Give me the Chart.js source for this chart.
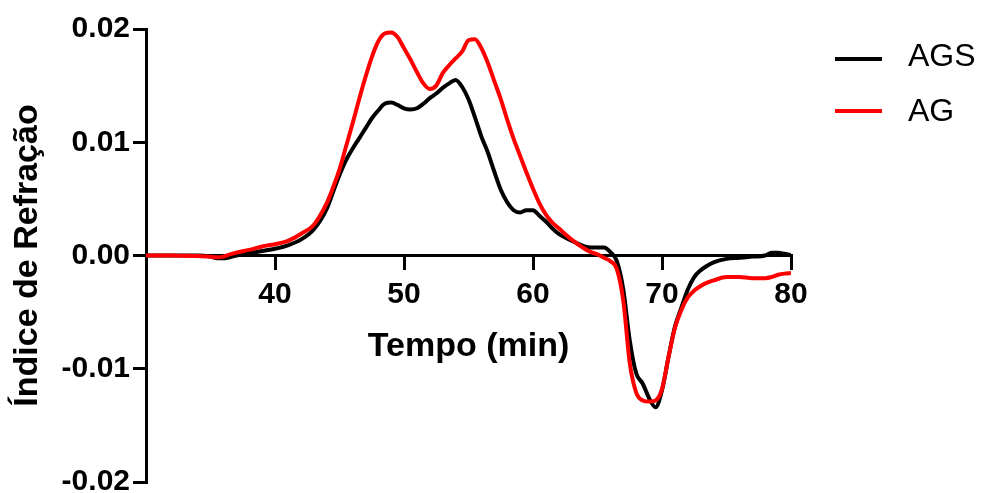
<!DOCTYPE html>
<html>
<head>
<meta charset="utf-8">
<script src="https://cdn.jsdelivr.net/npm/chart.js@4.4.0/dist/chart.umd.min.js"></script>
<style>
  html, body { margin: 0; padding: 0; background: #fff; overflow: hidden; }
  #wrap { width: 983px; height: 510px; }
</style>
</head>
<body>
<div id="wrap"><canvas id="myChart" width="983" height="510"></canvas></div>
<script>
// tempo (min) and refractive index signal for both samples
var tempo = [30, 32, 34, 35, 35.5, 36, 36.5, 37, 38, 39, 40, 41, 42, 43, 44, 44.5, 45, 45.5, 46, 46.5,
  47, 47.5, 48, 48.5, 49, 49.5, 50, 50.5, 51, 51.5, 52, 52.5, 53, 53.5, 54, 54.5, 55, 55.5, 56, 56.5,
  57, 57.5, 58, 58.5, 59, 59.5, 60, 60.5, 61, 61.5, 62, 63, 64, 64.5, 65, 65.5, 66, 66.5, 67, 67.5,
  68, 68.5, 69, 69.5, 70, 70.5, 71, 71.5, 72, 72.5, 73, 73.5, 74, 75, 76, 77, 78, 78.5, 79, 79.5, 80];

var ags = [0, 0, 0, -0.0001, -0.00025, -0.00025, -0.00015, 0, 0.0002, 0.0004, 0.0006, 0.0009, 0.0014, 0.0023, 0.0041, 0.0056, 0.0071, 0.0084, 0.0094, 0.0103,
  0.0112, 0.0121, 0.0128, 0.0134, 0.0135, 0.0133, 0.0130, 0.0129, 0.0130, 0.0134, 0.0139, 0.0143, 0.0148, 0.0152, 0.0155, 0.0149, 0.0138, 0.0122, 0.0105, 0.0091,
  0.0074, 0.0058, 0.0047, 0.0040, 0.0038, 0.0040, 0.0040, 0.0035, 0.0030, 0.0024, 0.0019, 0.0013, 0.0008, 0.0007, 0.0007, 0.0007, 0.0003, -0.0005, -0.0030, -0.0075,
  -0.0104, -0.0113, -0.0126, -0.0134, -0.0119, -0.0090, -0.0063, -0.0046, -0.0030, -0.0019, -0.0013, -0.0009, -0.0006, -0.0003, -0.0002, -0.0001, 0, 0.00025, 0.00025, 0.00015, 0.00005];

var ag = [0, 0, -0.00005, -0.0001, -0.00015, -0.0001, 0.0001, 0.00025, 0.0005, 0.0008, 0.0010, 0.0013, 0.0019, 0.0027, 0.0046, 0.0060, 0.0076, 0.0096, 0.0116, 0.0137,
  0.0157, 0.0175, 0.0189, 0.0196, 0.0197, 0.0193, 0.0183, 0.0173, 0.0162, 0.0152, 0.0147, 0.0150, 0.0161, 0.0168, 0.0174, 0.0180, 0.0190, 0.0191, 0.0183, 0.0170,
  0.0154, 0.0138, 0.0120, 0.0103, 0.0088, 0.0073, 0.0059, 0.0046, 0.0036, 0.0029, 0.0024, 0.0014, 0.0006, 0.0003, 0.0001, -0.0002, -0.0005, -0.0012, -0.0040, -0.0095,
  -0.0121, -0.0128, -0.0129, -0.0128, -0.0118, -0.0090, -0.0064, -0.0048, -0.0037, -0.0031, -0.0027, -0.0024, -0.0022, -0.0019, -0.0019, -0.0020, -0.0020, -0.0019, -0.0017, -0.0016, -0.00155];

var xTicks = [40, 50, 60, 70, 80];
var yTicks = [-0.02, -0.01, 0, 0.01, 0.02];

function pts(vals){
  return tempo.map(function(t, i){ return {x: t, y: vals[i]}; });
}

var fontName = '"Liberation Sans", Arial, sans-serif';

// legend drawn on the right like the original figure
var sideLegend = {
  id: 'sideLegend',
  afterDraw: function(chart){
    var ctx = chart.ctx;
    var x0 = chart.chartArea.right + 44;
    ctx.save();
    chart.data.datasets.forEach(function(ds, i){
      var y = 59 + i * 52;
      ctx.strokeStyle = ds.borderColor;
      ctx.lineWidth = 4;
      ctx.beginPath();
      ctx.moveTo(x0, y);
      ctx.lineTo(x0 + 47, y);
      ctx.stroke();
      ctx.fillStyle = '#000';
      ctx.font = '32px ' + fontName;
      ctx.textBaseline = 'middle';
      ctx.fillText(ds.label, x0 + 73, y - 2 + i * 3);
    });
    ctx.restore();
  }
};

new Chart("myChart", {
  type: "line",
  data: {
    datasets: [{
      label: 'AGS',
      data: pts(ags),
      borderColor: '#000000',
      borderWidth: 4,
      pointRadius: 0,
      cubicInterpolationMode: 'monotone',
      order: 1
    }, {
      label: 'AG',
      data: pts(ag),
      borderColor: '#ff0000',
      borderWidth: 4,
      pointRadius: 0,
      cubicInterpolationMode: 'monotone',
      order: 0
    }]
  },
  options: {
    responsive: false,
    animation: false,
    layout: { padding: { top: 29, right: 192, bottom: 28, left: 0 } },
    plugins: {
      legend: { display: false },
      tooltip: { enabled: false }
    },
    scales: {
      x: {
        type: 'linear',
        min: 30,
        max: 80,
        position: { y: 0 },
        afterBuildTicks: function(scale){
          scale.ticks = xTicks.map(function(v){ return {value: v}; });
        },
        grid: { display: true, drawOnChartArea: false, drawTicks: true, tickLength: 13, color: '#000', lineWidth: 3 },
        border: { display: true, color: '#000', width: 3 },
        ticks: {
          color: '#000',
          padding: 8,
          maxRotation: 0,
          font: { family: fontName, size: 30, weight: 'bold' }
        },
        title: {
          display: true,
          text: 'Tempo (min)',
          color: '#000',
          padding: { top: 6, bottom: 0 },
          font: { family: fontName, size: 34, weight: 'bold' }
        }
      },
      y: {
        type: 'linear',
        min: -0.02,
        max: 0.02,
        afterBuildTicks: function(scale){
          scale.ticks = yTicks.map(function(v){ return {value: v}; });
        },
        afterFit: function(scale){ scale.width = 146; },
        grid: { display: true, drawOnChartArea: false, drawTicks: true, tickLength: 13, color: '#000', lineWidth: 3 },
        border: { display: true, color: '#000', width: 3 },
        ticks: {
          color: '#000',
          padding: 3,
          font: { family: fontName, size: 30, weight: 'bold' },
          callback: function(v){ return v.toFixed(2); }
        },
        title: {
          display: true,
          text: 'Índice de Refração',
          color: '#000',
          padding: { top: 7, bottom: 0 },
          font: { family: fontName, size: 34, weight: 'bold' }
        }
      }
    }
  },
  plugins: [sideLegend]
});
</script>
</body>
</html>
